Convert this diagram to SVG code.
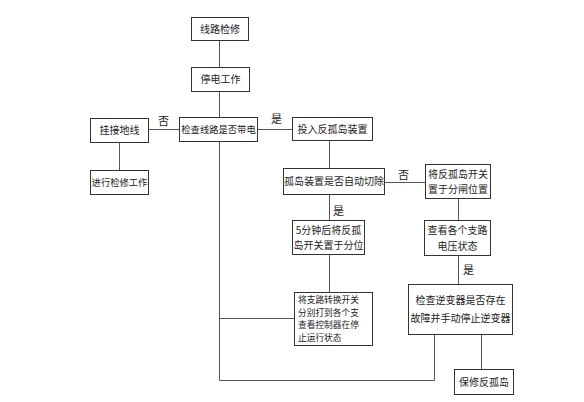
<svg xmlns="http://www.w3.org/2000/svg" width="584" height="402" viewBox="0 0 584 402">
<style>
.box rect{fill:#fff;stroke:#333;stroke-width:1}
text{font-family:"Noto Sans CJK SC","Noto Sans",sans-serif;font-size:10px;fill:#222}
.c{text-anchor:middle}
.s{font-size:9.3px}
.t{font-size:8.7px}
.conn line,.conn polyline{stroke:#555;stroke-width:1;fill:none}
.lbl{font-size:11px}
</style>
<rect width="584" height="402" fill="#fff"/>
<g class="conn">
<line x1="219.5" y1="40" x2="219.5" y2="68"/>
<line x1="219.5" y1="91" x2="219.5" y2="117"/>
<line x1="148" y1="129.5" x2="179" y2="129.5"/>
<line x1="257" y1="129.5" x2="292" y2="129.5"/>
<line x1="119.5" y1="142" x2="119.5" y2="170"/>
<line x1="329.5" y1="140" x2="329.5" y2="168"/>
<line x1="384" y1="182.5" x2="425" y2="182.5"/>
<line x1="329.5" y1="194" x2="329.5" y2="220"/>
<line x1="458.5" y1="198" x2="458.5" y2="220"/>
<line x1="458.5" y1="255" x2="458.5" y2="284"/>
<line x1="329.5" y1="254" x2="329.5" y2="292"/>
<polyline points="219.5,141 219.5,380.5 434.5,380.5 434.5,334"/>
<line x1="219.5" y1="318.5" x2="294" y2="318.5"/>
<line x1="481.5" y1="334" x2="481.5" y2="369"/>
</g>
<g id="labels">
<text class="lbl" x="158" y="125">否</text>
<text class="lbl" x="271" y="123">是</text>
<text class="lbl" x="398" y="179">否</text>
<text class="lbl" x="333" y="215">是</text>
<text class="lbl" x="463" y="274">是</text>
</g>
<g id="n1" class="box"><rect x="191.5" y="17.5" width="57" height="23"/><text class="c" x="220" y="32.5">线路检修</text></g>
<g id="n2" class="box"><rect x="191.5" y="67.5" width="58" height="24"/><text class="c" x="220.5" y="83">停电工作</text></g>
<g id="n3" class="box"><rect x="179.5" y="117.5" width="78" height="24"/><text class="c s" x="218.5" y="133">检查线路是否带电</text></g>
<g id="n4" class="box"><rect x="90.5" y="118.5" width="58" height="24"/><text class="c" x="119.5" y="134">挂接地线</text></g>
<g id="n5" class="box"><rect x="90.5" y="170.5" width="58" height="24"/><text class="c s" x="119.5" y="186">进行检修工作</text></g>
<g id="n6" class="box"><rect x="292.5" y="117.5" width="80" height="23"/><text class="c" x="332.5" y="132.5">投入反孤岛装置</text></g>
<g id="n7" class="box"><rect x="283.5" y="168.5" width="101" height="26"/><text class="c" x="334" y="185">孤岛装置是否自动切除</text></g>
<g id="n8" class="box"><rect x="425.5" y="164.5" width="65" height="34"/><text class="c" x="458" y="178">将反孤岛开关</text><text class="c" x="458" y="193">置于分闸位置</text></g>
<g id="n9" class="box"><rect x="292.5" y="220.5" width="72" height="34"/><text class="c" x="328.5" y="234">5分钟后将反孤</text><text class="c" x="328.5" y="249">岛开关置于分位</text></g>
<g id="n10" class="box"><rect x="424.5" y="220.5" width="66" height="35"/><text class="c" x="457.5" y="234">查看各个支路</text><text class="c" x="457.5" y="250">电压状态</text></g>
<g id="n11" class="box"><rect x="294.5" y="292.5" width="78" height="53"/><text class="t" x="298" y="303">将支路转换开关</text><text class="t" x="298" y="315.6">分别打到各个支</text><text class="t" x="298" y="328.2">查看控制器在停</text><text class="t" x="298" y="340.8">止运行状态</text></g>
<g id="n12" class="box"><rect x="408.5" y="284.5" width="104" height="50"/><text class="c" x="460.5" y="304">检查逆变器是否存在</text><text class="c" x="460.5" y="322">故障并手动停止逆变器</text></g>
<g id="n13" class="box"><rect x="454.5" y="369.5" width="59" height="25"/><text class="c" x="484" y="385.5">保修反孤岛</text></g>
</svg>
